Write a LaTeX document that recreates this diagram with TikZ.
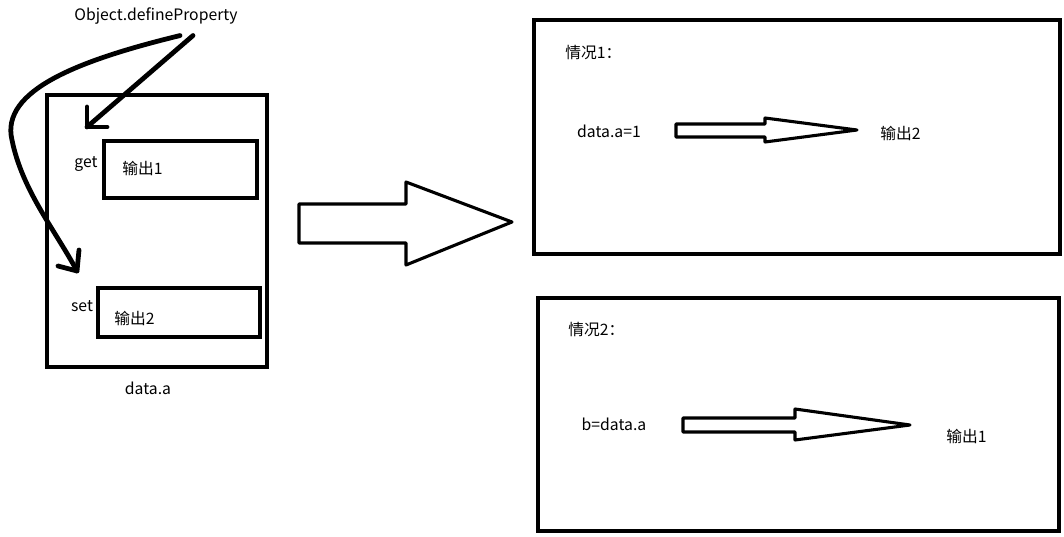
\documentclass[tikz,border=0pt]{standalone}
\usepackage{fontspec}
\setmainfont{Noto Sans CJK SC}
\usetikzlibrary{fit}
\tikzset{
  box/.style={draw, line width=2.8pt, inner sep=0pt},
  lbl/.style={inner sep=0pt, font=\fontsize{11.2}{13}\selectfont},
  stroke/.style={line width=3.4pt, line cap=round, line join=round},
  hollow/.style={draw, line width=2.2pt, line join=round, fill=white},
}
\begin{document}
\begin{tikzpicture}[x=0.025cm, y=-0.025cm]
  \useasboundingbox (0,0) rectangle (1064,537);
  % left: the property box
  \node[box, fit={(47,95) (267,367)}] (dataBox) {};
  \node[box, fit={(104,141) (257,198)}] (getBox) {};
  \node[box, fit={(98,288) (260,337)}] (setBox) {};
  \node[lbl] (getLbl) at (86,164) {get};
  \node[lbl, anchor=west] (out1) at (122,168) {输出1};
  \node[lbl] (setLbl) at (82,306) {set};
  \node[lbl, anchor=west] (out2) at (114,318) {输出2};
  \node[lbl] (dataLbl) at (148,388) {data.a};
  \node[lbl] (defProp) at (156,16) {Object.defineProperty};
  % hand drawn arrows
  \coordinate (getTip) at (87,127);
  \coordinate (setTip) at (77,271);
  \draw[stroke] (defProp.south) ++(37,11) -- (getTip);
  \draw[stroke] (getTip) ++(0,-20) -- (getTip) -- ++(20,0);
  \draw[stroke] (defProp.south) ++(24,11)
    .. controls (80,60) and (0,90) .. (12,140)
    .. controls (22,190) and (55,230) .. (setTip);
  \draw[stroke] (setTip) ++(2,-21) -- (setTip) -- ++(-19,-5);
  % big arrow
  \draw[hollow] (299,204) -- (406,204) -- (406,182) -- (512,222)
    -- (406,265) -- (406,243) -- (299,243) -- cycle;
  % case 1
  \node[box, fit={(534,20) (1060,254)}] (case1) {};
  \node[lbl, anchor=west] (case1Lbl) at (565,53) {情况1：};
  \node[lbl] (assign) at (609,131) {data.a=1};
  \node[lbl, anchor=west] (res1) at (880,133) {输出2};
  \draw[hollow] (676,124) -- (765,124) -- (765,118) -- (857,130)
    -- (765,142) -- (765,137) -- (676,137) -- cycle;
  % case 2
  \node[box, fit={(538,298) (1059,531)}] (case2) {};
  \node[lbl, anchor=west] (case2Lbl) at (568,330) {情况2：};
  \node[lbl] (read) at (614,424) {b=data.a};
  \node[lbl, anchor=west] (res2) at (946,436) {输出1};
  \draw[hollow] (683,418) -- (795,418) -- (795,409) -- (910,425)
    -- (795,440) -- (795,432) -- (683,432) -- cycle;
\end{tikzpicture}
\end{document}
